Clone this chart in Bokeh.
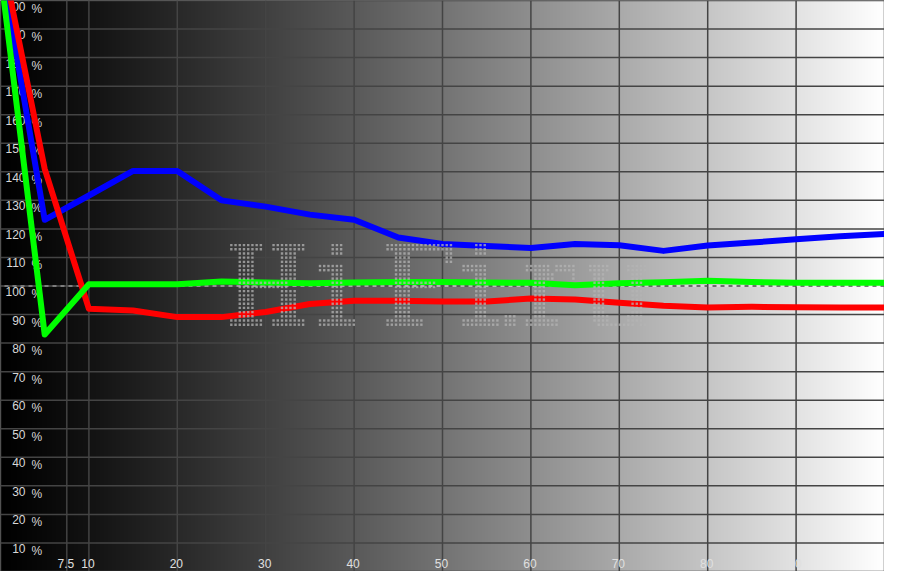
import numpy as np
from bokeh.plotting import figure
from bokeh.core.properties import value
from bokeh.embed import file_html
from bokeh.resources import INLINE

# ---- data -------------------------------------------------------------
x_pct = [0, 5, 10, 15, 20, 25, 30, 35, 40, 45, 50, 55, 60, 65, 70, 75, 80, 85, 90, 95, 100]
red = [218, 141, 92, 91.4, 89.1, 89.1, 90.9, 93.7, 94.8, 94.8, 94.6, 94.6, 95.6, 95.3,
       94.1, 93.1, 92.5, 92.7, 92.6, 92.5, 92.5]
green = [210, 83, 100.6, 100.6, 100.6, 101.6, 101.2, 101.0, 101.2, 101.4, 101.4, 101.2,
         101.1, 100.3, 101.0, 101.3, 101.8, 101.4, 101.1, 101.1, 101.1]
blue = [214, 123.2, 131.7, 140.3, 140.3, 130, 127.8, 125, 123.2, 117, 114.7, 114, 113.3,
        114.7, 114.3, 112.3, 114.2, 115.2, 116.4, 117.4, 118.2]

y_ticks = [10, 20, 30, 40, 50, 60, 70, 80, 90, 100, 110, 120, 130, 140, 150, 160, 170,
           180, 190, 200]
y_tick_labels = [str(v) for v in y_ticks]
x_ticks = [7.5, 10, 20, 30, 40, 50, 60, 70, 80, 90]
x_tick_labels = ["7.5", "10", "20", "30", "40", "50", "60", "70", "80", "90"]
x_grid = [0, 7.5, 10, 20, 30, 40, 50, 60, 70, 80, 90, 100]
y_grid = [0, 10, 20, 30, 40, 50, 60, 70, 80, 90, 110, 120, 130, 140, 150, 160, 170,
          180, 190, 200]
reference_level = 100

# dot-matrix watermark (decoration): (column offset, bitmap rows)
H_ = ["########..########"] * 2 + ["..####......####.."] * 7 + \
     ["..############.."] * 2 + ["..####......####.."] * 7 + ["########..########"] * 2
I_ = ["...###..."] * 3 + ["........."] * 2 + ["######..."] * 2 + ["...###..."] * 11 + \
     ["#########"] * 2
F_ = ["################"] * 2 + ["..####........##"] * 3 + ["..####.........."] * 4 + \
     ["..##########...."] * 2 + ["..####.........."] * 7 + ["#########......."] * 2
DOT_ = ["..."] * 17 + ["###"] * 3
R_ = ["............"] * 5 + ["######.#####"] * 2 + ["..#####....#"] * 2 + \
     ["..###......."] * 9 + ["########...."] * 2
U_ = ["..............."] * 5 + ["#####....#####"] * 2 + [".###......###."] * 10 + \
     [".####....####."] * 2 + ["..#########.##"]
watermark = [(0, H_), (21, I_), (37, F_), (55, I_), (65, DOT_), (70, R_), (85, U_)]

# ---- figure -------------------------------------------------------------
W, H = 884, 571
p = figure(width=W, height=H, x_range=(0, 100), y_range=(0, 200),
           output_backend="svg", toolbar_location=None, min_border=0)
p.axis.visible = False
p.xgrid.visible = False
p.ygrid.visible = False
p.outline_line_color = None
p.background_fill_color = "#000000"
p.border_fill_color = "#ffffff"

# horizontal black -> white gradient background
cols = W
t = (np.arange(cols) + 0.5) / cols
g = np.clip(np.round(255 * t ** 1.15), 0, 255).astype(np.uint8)
img = np.empty((1, cols), dtype=np.uint32)
view = img.view(dtype=np.uint8).reshape((1, cols, 4))
view[0, :, 0] = g
view[0, :, 1] = g
view[0, :, 2] = g
view[0, :, 3] = 255
p.image_rgba(image=[img], x=0, y=0, dw=100, dh=200, level="image")

# grid
grid_col = "#444444"
p.segment(x0=x_grid, y0=[0] * len(x_grid), x1=x_grid, y1=[200] * len(x_grid),
          line_color=grid_col, line_width=1.5)
p.segment(x0=[0] * len(y_grid), y0=y_grid, x1=[100] * len(y_grid), y1=y_grid,
          line_color=grid_col, line_width=1.5)
# 100 % reference: alternating white / black dashes
p.line([0, 100], [reference_level, reference_level], line_color="#f0f0f0", line_width=1)
p.line([0, 100], [reference_level, reference_level], line_color="#000000", line_width=1,
       line_dash="4 4")

# tick labels (inside the plot)
font = value("Liberation Sans")
p.text(x=[0] * len(y_ticks), y=y_ticks, text=y_tick_labels, x_offset=25, y_offset=1,
       text_align="right", text_baseline="top", text_font=font,
       text_font_size="12px", text_color="#d8d8d8")
p.text(x=[0] * len(y_ticks), y=y_ticks, text=["%"] * len(y_ticks), x_offset=31, y_offset=1,
       text_align="left", text_baseline="top", text_font=font,
       text_font_size="12px", text_color="#d8d8d8")
p.text(x=x_ticks, y=[0] * len(x_ticks), text=x_tick_labels, x_offset=-1, y_offset=-8,
       text_align="center", text_baseline="alphabetic", text_font=font,
       text_font_size="12px", text_color="#e0e0e0")

# series
p.line(x_pct, blue, line_color="#0000ff", line_width=6, line_join="round")
p.line(x_pct, red, line_color="#ff0000", line_width=6, line_join="round")
p.line(x_pct, green, line_color="#00ff00", line_width=6, line_join="round")

# watermark dots on top
wx0, wdx = 235 / 9.0, 4.3 / 9.0          # left column, column step (x units)
wy0, wdy = (586 - 251) / 2.93, 4.3 / 2.93  # top row, row step (% units)
dx, dy = [], []
for off, rows in watermark:
    for r, line in enumerate(rows):
        for c, ch in enumerate(line):
            if ch == "#":
                dx.append(wx0 + (off + c) * wdx)
                dy.append(wy0 - r * wdy)
p.scatter(dx, dy, marker="square", size=2.4, fill_color="#b4b4b4", line_color=None,
          fill_alpha=0.75)

open("out.html", "w").write(file_html(p, INLINE))
